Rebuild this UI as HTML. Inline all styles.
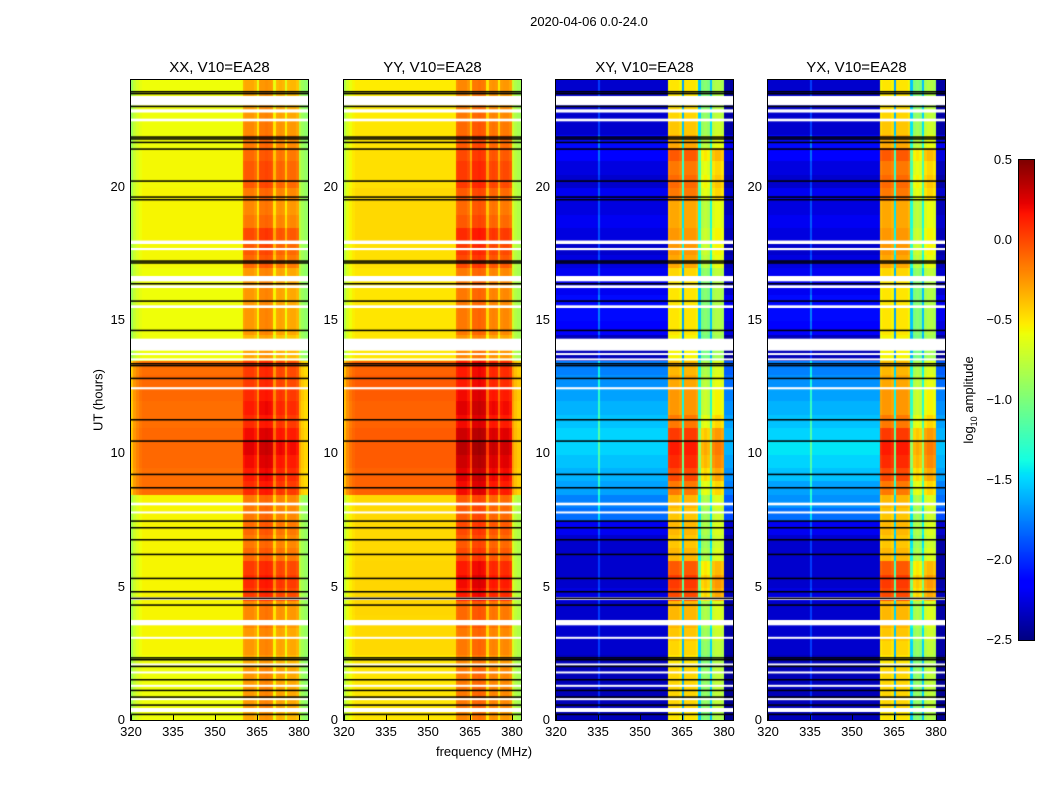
<!DOCTYPE html>
<html><head><meta charset="utf-8">
<style>
body{margin:0;background:#fff;width:1050px;height:800px;overflow:hidden;font-family:"Liberation Sans",sans-serif;}
#root{position:relative;width:1050px;height:800px;}
.t{position:absolute;font-size:13px;color:#000;white-space:nowrap;}
.pt{position:absolute;font-size:15px;white-space:nowrap;transform:translateX(-50%);}
canvas{position:absolute;}
.frame{position:absolute;border:1px solid #000;box-sizing:border-box;pointer-events:none;}
</style></head><body>
<div id="root">
<div class="t" style="left:589px;top:14px;transform:translateX(-50%)">2020-04-06 0.0-24.0</div>
<div class="t" style="left:98px;top:400px;transform:translate(-50%,-50%) rotate(-90deg)">UT (hours)</div>
<div class="t" style="left:484px;top:744px;transform:translateX(-50%)">frequency (MHz)</div>
<canvas id="cb" width="15" height="480" style="left:1019px;top:160px"></canvas>
<div class="frame" style="left:1018px;top:159px;width:17px;height:482px"></div>
<div class="t" style="left:970px;top:400px;transform:translate(-50%,-50%) rotate(-90deg)">log<sub style="font-size:9px">10</sub> amplitude</div>
</div>
<script>
// ---- data ----
const panelTitles=["XX, V10=EA28","YY, V10=EA28","XY, V10=EA28","YX, V10=EA28"];
const xTicks=[320,335,350,365,380];
const yTicks=[0,5,10,15,20];
const cbTicks=[0.5,0.0,-0.5,-1.0,-1.5,-2.0,-2.5];
// background level per 0.5h bin (0..23.5)
const xxBg=[-0.58,-0.58,-0.58,-0.58,-0.58,-0.55,-0.55,-0.55,-0.55,-0.55,-0.55,-0.55,-0.55,-0.55,-0.55,-0.55,-0.55,-0.12,-0.12,-0.1,-0.1,-0.1,-0.12,-0.12,-0.1,-0.1,-0.12,-0.58,-0.58,-0.58,-0.58,-0.58,-0.58,-0.58,-0.56,-0.56,-0.55,-0.55,-0.55,-0.55,-0.56,-0.56,-0.56,-0.58,-0.58,-0.58,-0.58,-0.58];
const yyBg=[-0.5,-0.5,-0.5,-0.5,-0.5,-0.46,-0.46,-0.46,-0.45,-0.45,-0.45,-0.45,-0.46,-0.46,-0.46,-0.46,-0.46,-0.08,-0.08,-0.06,-0.06,-0.06,-0.08,-0.08,-0.06,-0.06,-0.08,-0.5,-0.5,-0.5,-0.5,-0.5,-0.5,-0.5,-0.48,-0.48,-0.46,-0.46,-0.46,-0.46,-0.48,-0.48,-0.48,-0.5,-0.5,-0.52,-0.52,-0.52];
const xxBand=[-0.3,-0.25,-0.25,-0.25,-0.3,-0.25,-0.25,-0.2,-0.2,0.05,0.1,0.05,-0.1,-0.15,-0.1,-0.15,-0.15,0.1,0.15,0.2,0.25,0.2,0.1,0.15,0.1,0.05,0.05,-0.3,-0.35,-0.25,-0.25,-0.25,-0.25,-0.25,-0.1,-0.05,0.0,-0.15,-0.2,-0.15,-0.05,-0.05,-0.1,-0.15,-0.2,-0.25,-0.3,-0.3];
const yyBand=[-0.2,-0.15,-0.15,-0.15,-0.2,-0.15,-0.15,-0.1,-0.1,0.15,0.2,0.15,0.0,-0.05,0.0,-0.05,-0.05,0.2,0.25,0.3,0.35,0.3,0.2,0.25,0.2,0.15,0.15,-0.2,-0.25,-0.15,-0.15,-0.15,-0.15,-0.15,0.0,0.05,0.1,-0.05,-0.1,-0.05,0.05,0.05,0.0,-0.05,-0.1,-0.15,-0.2,-0.2];
const xyBg=[-2.35,-2.35,-2.35,-2.35,-2.35,-2.3,-2.3,-2.3,-2.3,-2.25,-2.3,-2.3,-2.3,-2.3,-2.2,-1.8,-1.75,-1.65,-1.6,-1.55,-1.5,-1.5,-1.55,-1.6,-1.65,-1.7,-1.75,-2.35,-2.35,-2.15,-2.1,-2.1,-2.2,-2.2,-2.25,-2.3,-2.25,-2.2,-2.25,-2.2,-2.3,-2.25,-2.15,-2.1,-2.3,-2.3,-2.3,-2.3];
const yxBg=[-2.35,-2.35,-2.35,-2.35,-2.35,-2.3,-2.3,-2.3,-2.3,-2.25,-2.3,-2.3,-2.3,-2.3,-2.2,-1.8,-1.7,-1.65,-1.55,-1.5,-1.45,-1.5,-1.55,-1.6,-1.65,-1.7,-1.75,-2.35,-2.35,-2.15,-2.1,-2.1,-2.2,-2.2,-2.25,-2.3,-2.25,-2.2,-2.25,-2.2,-2.3,-2.25,-2.15,-2.1,-2.3,-2.3,-2.3,-2.3];
const xyBand=[-0.55,-0.5,-0.5,-0.5,-0.55,-0.5,-0.45,-0.4,-0.4,-0.05,0.0,-0.1,-0.4,-0.45,-0.4,-0.45,-0.4,-0.2,-0.05,0.05,0.1,0.0,-0.2,-0.3,-0.3,-0.35,-0.4,-0.6,-0.6,-0.55,-0.55,-0.55,-0.55,-0.5,-0.35,-0.3,-0.3,-0.35,-0.35,-0.2,-0.15,-0.2,-0.1,-0.35,-0.45,-0.5,-0.55,-0.55];
const yxBand=xyBand;
// column offsets per 1 MHz channel (320..382)
const parCol=[-0.3,-0.15,-0.08,-0.03,0,0,0,0,0,0,0,0,0,0,0,0,0,0,0,0,0,0,0,0,0,0,0,0,0,0,0,0,0,0,0,0,0,0,0,0,0.32,0.35,0.35,0.35,0.3,0.05,0.4,0.4,0.42,0.4,0.38,0.05,0.3,0.32,0.3,0.02,0.28,0.3,0.3,0.25,-0.2,-0.3,-0.35];
const crossCol=[null,null,null,null,null,null,null,null,null,null,null,null,null,null,null,"L",null,null,null,null,null,null,null,null,null,null,null,null,null,null,null,null,null,null,null,null,null,null,null,null,0,0.05,0.05,0.05,0,-1.1,0.05,0.05,0.05,0.05,0,-1.0,-0.45,-0.4,-0.45,-1.0,-0.3,-0.25,-0.25,-0.3,null,null,null];
// flagged (white) intervals [start,end] in hours and black lines (hours)
const whiteGaps=[[23.05,23.4],[22.78,22.9],[22.45,22.55],[17.85,17.98],[17.62,17.7],[16.45,16.65],[16.2,16.3],[15.45,15.55],[13.85,14.3],[13.7,13.76],[13.5,13.56],[12.4,12.48],[8.05,8.15],[7.75,7.82],[4.5,4.6],[3.55,3.75],[3.05,3.12],[2.05,2.12],[1.75,1.82],[1.25,1.32],[0.75,0.82],[0.3,0.45]];
const blackLines=[23.55,23.48,23.0,21.85,21.78,21.65,21.4,20.2,19.6,19.5,17.2,17.13,16.35,15.7,14.6,13.35,13.28,12.8,11.25,10.45,9.2,8.7,7.45,7.2,6.75,6.2,5.3,4.8,4.55,4.3,2.32,2.25,2.0,1.5,1.1,0.85,0.55,0.2];
// ---- rendering ----
const W=177,H=640,fMin=320,fMax=383.2,tMax=24;
const panelX=[131,344,556,768],panelY=80;
const xs=f=>(f-fMin)/(fMax-fMin)*W;
const ys=t=>H-t/tMax*H;
const cbY=v=>(0.5-v)/3*480;
function seg(pts,x){for(let i=1;i<pts.length;i++){if(x<=pts[i][0]){const[a,ya]=pts[i-1],[b,yb]=pts[i];return ya+(yb-ya)*(x-a)/(b-a);}}return pts[pts.length-1][1];}
const JR=[[0,0],[0.35,0],[0.66,1],[0.89,1],[1,0.5]],JG=[[0,0],[0.125,0],[0.375,1],[0.64,1],[0.91,0],[1,0]],JB=[[0,0.5],[0.11,1],[0.34,1],[0.65,0],[1,0]];
function jet(v){let x=(v+2.5)/3;x=Math.max(0,Math.min(1,x));
 return `rgb(${Math.round(255*seg(JR,x))},${Math.round(255*seg(JG,x))},${Math.round(255*seg(JB,x))})`;}
const root=document.getElementById('root');
const bgs=[xxBg,yyBg,xyBg,yxBg],bands=[xxBand,yyBand,xyBand,yxBand];
for(let p=0;p<4;p++){
 const cv=document.createElement('canvas');cv.width=W;cv.height=H;
 cv.style.left=panelX[p]+'px';cv.style.top=panelY+'px';
 
 
 root.appendChild(cv);
 const g=cv.getContext('2d');
 for(let r=0;r<bgs[p].length;r++){
  const t0=r*0.5,t1=t0+0.5,y0=ys(t1),y1=ys(t0);
  for(let c=0;c<63;c++){
   const f=fMin+c,x0=xs(f),x1=xs(f+1);let v;
   if(p<2){v=(c>=40&&c<60)?bands[p][r]+parCol[c]-0.35:bgs[p][r]+parCol[c];}
   else{const cc=crossCol[c];
    if(cc===null)v=bgs[p][r]+(c>=60?-0.1:0);
    else if(cc==="L")v=bgs[p][r]+0.35;
    else v=bands[p][r]+cc;}
   g.fillStyle=jet(v);g.fillRect(Math.floor(x0),Math.floor(y0),Math.ceil(x1-x0)+1,Math.ceil(y1-y0)+1);
  }
 }
 g.fillStyle='#fff';
 whiteGaps.forEach(([a,b])=>{g.fillRect(0,ys(b),W,Math.max(2,ys(a)-ys(b)));});
 g.fillStyle='#000';
 blackLines.forEach(t=>{g.fillRect(0,ys(t)-1,W,1.5);});
 const fr=document.createElement('div');fr.className='frame';
 fr.style.cssText=`left:${panelX[p]-1}px;top:${panelY-1}px;width:${W+2}px;height:${H+2}px`;
 
 
 root.appendChild(fr);
 const tt=document.createElement('div');tt.className='pt';tt.textContent=panelTitles[p];
 tt.style.left=(panelX[p]+W/2)+'px';tt.style.top='59px';
 
 
 root.appendChild(tt);
 xTicks.forEach(v=>{const d=document.createElement('div');d.className='t';d.textContent=v;
  d.style.left=(panelX[p]+xs(v))+'px';d.style.top='724px';d.style.transform='translateX(-50%)';
  
  
  root.appendChild(d);
  const k=document.createElement('div');k.style.cssText=`position:absolute;left:${panelX[p]+xs(v)}px;top:${panelY+H-5}px;width:1px;height:5px;background:#000`;
  
  
  root.appendChild(k);});
 yTicks.forEach(v=>{const d=document.createElement('div');d.className='t';d.textContent=v;
  d.style.left=(panelX[p]-6)+'px';d.style.top=(panelY+ys(v)-8)+'px';d.style.transform='translateX(-100%)';
  
  
  root.appendChild(d);});
}
// colorbar
const cb=document.getElementById('cb').getContext('2d');
for(let i=0;i<480;i++){cb.fillStyle=jet(0.5-i/480*3);cb.fillRect(0,i,15,1);}
cbTicks.forEach(v=>{const d=document.createElement('div');d.className='t';d.textContent=v.toFixed(1).replace('-','\u2212');
 d.style.left='1012px';d.style.top=(160+cbY(v)-8)+'px';d.style.transform='translateX(-100%)';
 
 
 root.appendChild(d);});
</script>
</body></html>
